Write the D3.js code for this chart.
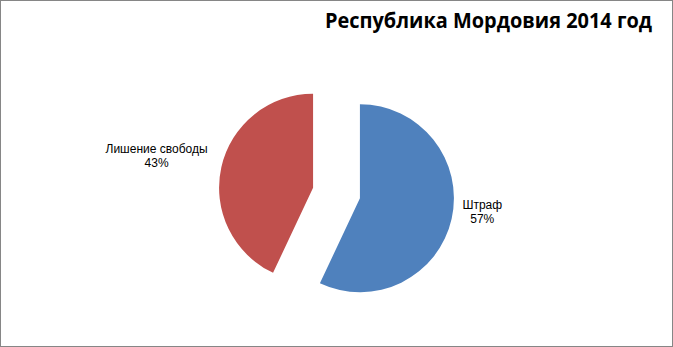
<!DOCTYPE html>
<html>
<head>
<meta charset="utf-8">
<script src="https://cdn.jsdelivr.net/npm/d3@7"></script>
<style>
  body { margin: 0; background: #fff; }
</style>
</head>
<body>
<div id="chart"></div>
<script>
var title = 'Республика Мордовия 2014 год';
var categories = ['Штраф', 'Лишение свободы'];
var values = [57, 43];
var colors = ['#4F81BD', '#C0504D'];

var width = 673, height = 347;
var radius = 94;
var explode = 24;
var cx = 336.5, cy = 193;

var svg = d3.select('#chart').append('svg')
    .attr('width', width)
    .attr('height', height)
    .style('font-family', 'Liberation Sans, Arial, sans-serif');

// chart border
svg.append('rect')
    .attr('x', 0.5)
    .attr('y', 0.5)
    .attr('width', width - 1)
    .attr('height', height - 1)
    .attr('fill', '#fff')
    .attr('stroke', '#868686');

svg.append('text')
    .attr('x', 325)
    .attr('y', 28)
    .attr('textLength', 327)
    .attr('lengthAdjust', 'spacingAndGlyphs')
    .style('font', 'bold 21px "Open Sans", sans-serif')
    .attr('fill', '#000')
    .text(title);

var pie = d3.pie().sort(null).startAngle(0).endAngle(2 * Math.PI);
var arcs = pie(values);
var arc = d3.arc().innerRadius(0).outerRadius(radius);

var total = d3.sum(values);

var slice = svg.selectAll('.slice')
    .data(arcs)
    .enter().append('g')
        .attr('class', 'slice')
        .attr('transform', function(d) {
            var a = (d.startAngle + d.endAngle) / 2;
            var x = cx + Math.sin(a) * explode;
            var y = cy - Math.cos(a) * explode;
            return 'translate(' + x + ',' + y + ')';
        });

slice.append('path')
    .attr('d', arc)
    .attr('fill', function(d, i) { return colors[i]; });

var label = slice.append('text')
    .attr('fill', '#000')
    .style('font-size', '12px')
    .attr('text-anchor', 'middle');

label.append('tspan')
    .attr('class', 'name')
    .text(function(d, i) { return categories[i]; });
label.append('tspan')
    .attr('class', 'pct')
    .attr('dy', 14)
    .text(function(d) { return Math.round(d.value / total * 100) + '%'; });

label.each(function(d) {
    var a = (d.startAngle + d.endAngle) / 2;
    var r = radius + 10;
    var px = Math.sin(a) * r;
    var py = -Math.cos(a) * r - 10;
    var w = d3.select(this).select('.name').node().getComputedTextLength();
    var x = Math.sin(a) > 0 ? px + w / 2 + 1 : px - w / 2 - 4;
    d3.select(this).selectAll('tspan').attr('x', x);
    d3.select(this).select('.name').attr('y', py - 2);
});
</script>
</body>
</html>
